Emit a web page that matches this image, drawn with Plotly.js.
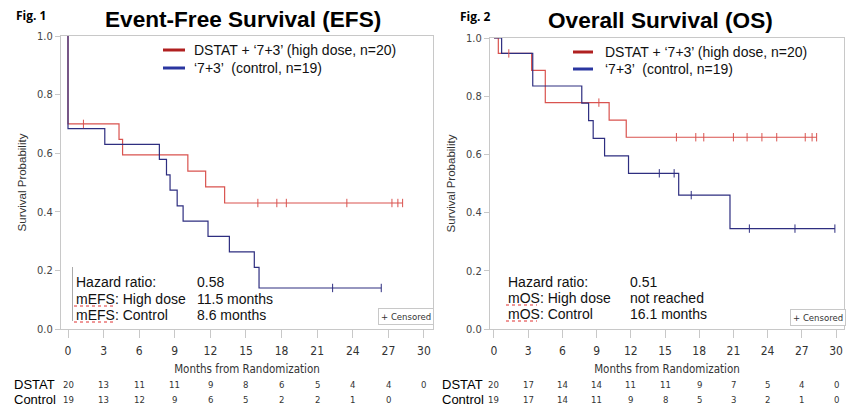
<!DOCTYPE html>
<html><head><meta charset="utf-8">
<script src="https://cdn.plot.ly/plotly-3.0.1.min.js"></script>
<style>html,body{margin:0;padding:0;background:#fff;}#chart{width:856px;height:413px;}</style>
</head><body><div id="chart"></div>
<script>
// ---------- DATA ----------
// Event-free survival (Fig. 1)
const efsHighT = [0, 0, 4.3, 4.6, 10.1, 11.6, 13.2, 28.2];
const efsHighS = [1, 0.70, 0.647, 0.594, 0.539, 0.485, 0.43, 0.43];
const efsHighCensT = [1.3, 16.0, 17.6, 18.4, 23.5, 27.3, 27.8, 28.2];
const efsHighCensS = [0.70, 0.43, 0.43, 0.43, 0.43, 0.43, 0.43, 0.43];
const efsCtrlT = [0, 0, 3.1, 7.7, 8.3, 8.6, 9.2, 9.7, 11.8, 13.6, 15.7, 16.1, 26.4];
const efsCtrlS = [1, 0.684, 0.63, 0.579, 0.526, 0.474, 0.42, 0.368, 0.316, 0.263, 0.21, 0.14, 0.14];
const efsCtrlCensT = [22.3, 26.4];
const efsCtrlCensS = [0.14, 0.14];
// Overall survival (Fig. 2)
const osHighT = [0, 0.38, 3.3, 4.5, 10.1, 11.6, 28.3];
const osHighS = [1, 0.947, 0.889, 0.778, 0.718, 0.659, 0.659];
const osHighCensT = [1.3, 9.2, 16.0, 17.7, 18.4, 21.0, 22.2, 23.5, 24.8, 27.3, 27.9, 28.3];
const osHighCensS = [0.947, 0.778, 0.659, 0.659, 0.659, 0.659, 0.659, 0.659, 0.659, 0.659, 0.659, 0.659];
const osCtrlT = [0, 0.67, 3.4, 7.7, 8.3, 8.7, 9.7, 11.8, 16.2, 20.7, 29.9];
const osCtrlS = [1, 0.947, 0.835, 0.776, 0.716, 0.655, 0.595, 0.535, 0.46, 0.345, 0.345];
const osCtrlCensT = [14.5, 15.8, 17.3, 22.4, 26.4, 29.9];
const osCtrlCensS = [0.535, 0.535, 0.46, 0.345, 0.345, 0.345];
// Numbers at risk
const riskTimes = [0, 3, 6, 9, 12, 15, 18, 21, 24, 27, 30];
const efsRiskHigh = [20, 13, 11, 11, 9, 8, 6, 5, 4, 4, 0];
const efsRiskCtrl = [19, 13, 12, 9, 6, 5, 2, 2, 1, 0];
const osRiskHigh = [20, 17, 14, 14, 11, 11, 9, 7, 5, 4, 0];
const osRiskCtrl = [19, 17, 14, 11, 9, 8, 5, 3, 2, 1, 0];
const yTicks = [0, 0.2, 0.4, 0.6, 0.8, 1.0];
const yTickText = ['0.0', '0.2', '0.4', '0.6', '0.8', '1.0'];
// Texts
const titles = ['Event-Free Survival (EFS)', 'Overall Survival (OS)'];
const figLabels = ['Fig. 1', 'Fig. 2'];
const seriesNames = ['DSTAT + \u20187+3\u2019 (high dose, n=20)', '\u20187+3\u2019  (control, n=19)'];
const statLabels = [['Hazard ratio:', 'mEFS: High dose', 'mEFS: Control'], ['Hazard ratio:', 'mOS: High dose', 'mOS: Control']];
const statValues = [['0.58', '11.5 months', '8.6 months'], ['0.51', 'not reached', '16.1 months']];
const riskRowLabels = ['DSTAT', 'Control'];

// ---------- STYLE ----------
const W = 856, H = 413;
const RED = '#d9534f', BLUE = '#2e2e80';
const LRED = '#b02020', LBLUE = '#2a36a0';
const NARROW = 'DejaVu Sans Condensed, sans-serif';
const ARIAL = 'Liberation Sans, Arial, sans-serif';
const px = v => v / W, py = v => 1 - v / H;

function curve(x, y, color, xa, ya) {
  return {x, y, type: 'scatter', mode: 'lines', line: {shape: 'hv', color, width: 1.2},
    xaxis: xa, yaxis: ya, showlegend: false, hoverinfo: 'skip'};
}
function cens(x, y, color, xa, ya) {
  return {x, y, type: 'scatter', mode: 'markers',
    marker: {symbol: 'line-ns', size: 6, line: {color, width: 1}},
    xaxis: xa, yaxis: ya, showlegend: false, hoverinfo: 'skip'};
}
const data = [
  curve(efsHighT, efsHighS, RED, 'x', 'y'),
  curve(efsCtrlT, efsCtrlS, BLUE, 'x', 'y'),
  cens(efsHighCensT, efsHighCensS, RED, 'x', 'y'),
  cens(efsCtrlCensT, efsCtrlCensS, BLUE, 'x', 'y'),
  curve(osHighT, osHighS, RED, 'x2', 'y2'),
  curve(osCtrlT, osCtrlS, BLUE, 'x2', 'y2'),
  cens(osHighCensT, osHighCensS, RED, 'x2', 'y2'),
  cens(osCtrlCensT, osCtrlCensS, BLUE, 'x2', 'y2')
];

function xax(dom, range) {
  return {domain: dom, range, tickvals: riskTimes, ticktext: riskTimes.map(String),
    ticks: 'outside', ticklen: 8, tickcolor: '#c8c8c8', showline: true, mirror: true,
    linecolor: '#c8c8c8', linewidth: 1, showgrid: false, zeroline: false,
    ticklabelstandoff: 3,
    tickfont: {family: NARROW, size: 12, color: '#333'},
    title: {text: 'Months from Randomization', font: {family: NARROW, size: 11.5, color: '#333'}, standoff: 7},
    fixedrange: true};
}
function yax(dom, anchor) {
  return {domain: dom, range: [0, 1], tickvals: yTicks, ticktext: yTickText, anchor,
    ticks: 'outside', ticklen: 5, tickcolor: '#c8c8c8', showline: true, mirror: true,
    linecolor: '#c8c8c8', linewidth: 1, showgrid: false, zeroline: false,
    tickfont: {family: NARROW, size: 11, color: '#444'},
    title: {text: 'Survival Probability', font: {family: ARIAL, size: 11.5, color: '#333'}, standoff: 8},
    fixedrange: true};
}

const ann = [], shapes = [];
const panels = [
  {xa: 'x', fig: [14, 15], title: [243, 19], leg: [163, 185, 192, 50, 68],
   stat: [74, 195, 282, 299, 315], cbox: [405.5, 316], risk: [efsRiskHigh, efsRiskCtrl], rlab: 12,
   und: [74, 113], tsize: 22.6},
  {xa: 'x2', fig: [458, 17], title: [660, 21], leg: [573, 593, 603, 52, 69],
   stat: [506, 628, 282, 298, 314], cbox: [817.5, 317], risk: [osRiskHigh, osRiskCtrl], rlab: 440,
   und: [506, 537], tsize: 22.6}
];
panels.forEach((p, i) => {
  ann.push({xref: 'paper', yref: 'paper', x: px(p.fig[0]), y: py(p.fig[1]), xanchor: 'left', yanchor: 'middle',
    text: '<b>' + figLabels[i] + '</b>', showarrow: false, font: {family: 'Open Sans, sans-serif', size: 12, color: '#000'}});
  ann.push({xref: 'paper', yref: 'paper', x: px(p.title[0]), y: py(p.title[1]), xanchor: 'center', yanchor: 'middle',
    text: '<b>' + titles[i] + '</b>', showarrow: false, font: {family: ARIAL, size: p.tsize, color: '#000'}});
  // legend
  [LRED, LBLUE].forEach((c, k) => {
    const yy = k === 0 ? p.leg[3] : p.leg[4];
    shapes.push({type: 'line', xref: 'paper', yref: 'paper', x0: px(p.leg[0]), x1: px(p.leg[1]), y0: py(yy), y1: py(yy),
      line: {color: c, width: 3}});
    ann.push({xref: 'paper', yref: 'paper', x: px(p.leg[2]), y: py(yy), xanchor: 'left', yanchor: 'middle',
      text: seriesNames[k], showarrow: false, font: {family: ARIAL, size: 14, color: '#111'}});
  });
  // stats
  for (let k = 0; k < 3; k++) {
    const yy = p.stat[2 + k];
    ann.push({xref: 'paper', yref: 'paper', x: px(p.stat[0]), y: py(yy), xanchor: 'left', yanchor: 'middle',
      text: statLabels[i][k], showarrow: false, font: {family: ARIAL, size: 14, color: '#111'}});
    ann.push({xref: 'paper', yref: 'paper', x: px(p.stat[1]), y: py(yy), xanchor: 'left', yanchor: 'middle',
      text: statValues[i][k], showarrow: false, font: {family: ARIAL, size: 14, color: '#111'}});
  }
  [p.stat[3] + 7, p.stat[4] + 7].forEach(yy => shapes.push({type: 'line', xref: 'paper', yref: 'paper',
    x0: px(p.und[0]), x1: px(p.und[1]), y0: py(yy), y1: py(yy), line: {color: '#e03030', width: 1, dash: 'dot'}}));
  // censored box
  ann.push({xref: 'paper', yref: 'paper', x: px(p.cbox[0]), y: py(p.cbox[1]), xanchor: 'center', yanchor: 'middle',
    text: '+ Censored', showarrow: false, bordercolor: '#c8c8c8', borderwidth: 1, borderpad: 2, bgcolor: '#fff',
    font: {family: NARROW, size: 9.5, color: '#333'}});
  // risk table
  [384, 399].forEach((yy, k) => {
    ann.push({xref: 'paper', yref: 'paper', x: px(p.rlab), y: py(yy), xanchor: 'left', yanchor: 'middle',
      text: riskRowLabels[k], showarrow: false, font: {family: ARIAL, size: 13, color: '#000'}});
    p.risk[k].forEach((n, j) => ann.push({xref: p.xa, yref: 'paper', x: riskTimes[j], y: py(yy),
      xanchor: 'center', yanchor: 'middle', text: String(n), showarrow: false,
      font: {family: NARROW, size: 9.5, color: '#333'}}));
  });
});
// text cursor mark left of stats in Fig. 1
shapes.push({type: 'line', xref: 'paper', yref: 'paper', x0: px(72.5), x1: px(72.5), y0: py(267), y1: py(321),
  line: {color: '#aaa', width: 1}});

const layout = {
  width: W, height: H, margin: {l: 0, r: 0, t: 0, b: 0},
  paper_bgcolor: '#fff', plot_bgcolor: '#fff', showlegend: false,
  xaxis: xax([px(61), px(433)], [-0.59, 30.76]),
  yaxis: yax([py(329), py(36)], 'x'),
  xaxis2: Object.assign(xax([px(490), px(844)], [-0.35, 30.7]), {anchor: 'y2'}),
  yaxis2: yax([py(329), py(38)], 'x2'),
  annotations: ann, shapes
};
layout.xaxis.anchor = 'y';
Plotly.newPlot('chart', data, layout, {staticPlot: true});
</script></body></html>
